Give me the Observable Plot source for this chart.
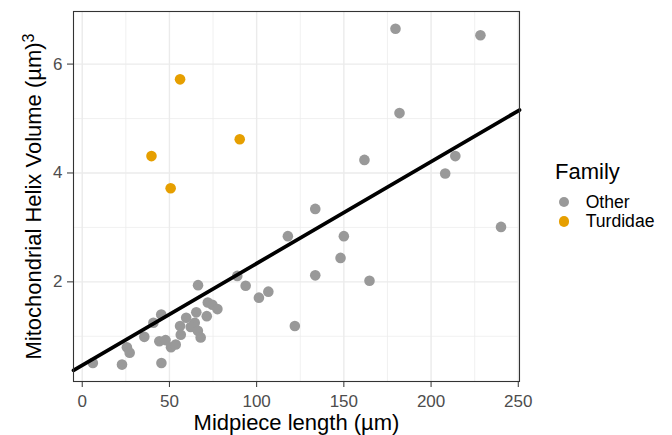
<!DOCTYPE html>
<html><head><meta charset="utf-8">
<script src="https://cdn.jsdelivr.net/npm/d3@7"></script>
<script src="https://cdn.jsdelivr.net/npm/@observablehq/plot@0.6"></script>
<style>
html,body{margin:0;padding:0;background:#fff;}
#wrap{position:relative;width:672px;height:435px;font-family:"Liberation Sans",Arial,sans-serif;}
#legend{position:absolute;left:555px;top:159px;color:#000;}
.lt{font-size:22px;line-height:26px;margin-bottom:7.6px;}
.row{display:flex;align-items:center;height:19.4px;font-size:17.6px;}
.sw{width:10.4px;height:10.4px;border-radius:50%;margin-left:4.1px;margin-right:16.2px;}
</style></head><body><div id="wrap"><div id="legend"></div></div>
<script>
const midpiece = [56.1, 90.3, 39.7, 50.7,
  179.6, 228.3, 181.9, 161.8, 213.9, 208.1, 240.1, 133.6, 117.9, 150.0, 148.1, 133.6, 164.7, 121.9,
  88.9, 93.7, 101.3, 106.7, 66.4, 72.0, 74.6, 77.5, 65.4, 71.4, 59.6, 64.5, 56.1, 62.2, 66.3, 56.5,
  67.9, 45.3, 40.8, 35.6, 44.2, 47.8, 50.9, 53.6, 45.4, 25.6, 27.2, 22.8, 6.1];
const volume = [5.72, 4.62, 4.31, 3.72,
  6.65, 6.53, 5.10, 4.24, 4.31, 3.99, 3.01, 3.34, 2.84, 2.84, 2.44, 2.12, 2.02, 1.19,
  2.11, 1.93, 1.71, 1.82, 1.94, 1.62, 1.58, 1.50, 1.44, 1.37, 1.34, 1.25, 1.19, 1.17, 1.10, 1.03,
  0.98, 1.40, 1.25, 0.99, 0.91, 0.93, 0.80, 0.85, 0.51, 0.80, 0.70, 0.48, 0.51];
const family = midpiece.map((_, i) => i < 4 ? "Turdidae" : "Other");
const familyDomain = ["Other", "Turdidae"];
const familyColors = ["#999999", "#E69F00"];
const fitIntercept = 0.468, fitSlope = 0.0187;
const xTicks = [0, 50, 100, 150, 200, 250];
const xMinor = [25, 75, 125, 175, 225];
const yTicks = [2, 4, 6];
const yMinor = [1, 3, 5];
const xTitle = "Midpiece length (µm)";
const yTitleMain = "Mitochondrial Helix Volume (µm)";
const yTitleSup = "3";
const legendTitle = "Family";

const xDomain = [-5, 250.7], yDomain = [0.17, 6.966];
const data = midpiece.map((x, i) => ({x, y: volume[i], family: family[i]}));
const fit = xDomain.map(x => ({x, y: fitIntercept + fitSlope * x}));
const ordered = data.filter(d => d.family === "Other").concat(data.filter(d => d.family === "Turdidae"));

const chart = Plot.plot({
  width: 672, height: 435,
  marginLeft: 73, marginRight: 153, marginTop: 11, marginBottom: 54,
  style: {fontFamily: "Liberation Sans, Arial, sans-serif", fontSize: "17px", background: "#fff", overflow: "visible"},
  x: {domain: xDomain, label: null},
  y: {domain: yDomain, label: null},
  color: {domain: familyDomain, range: familyColors},
  marks: [
    Plot.gridX(xMinor, {stroke: "#EBEBEB", strokeOpacity: 1, strokeWidth: 0.7}),
    Plot.gridY(yMinor, {stroke: "#EBEBEB", strokeOpacity: 1, strokeWidth: 0.7}),
    Plot.gridX(xTicks, {stroke: "#EBEBEB", strokeOpacity: 1, strokeWidth: 1.4}),
    Plot.gridY(yTicks, {stroke: "#EBEBEB", strokeOpacity: 1, strokeWidth: 1.4}),
    Plot.dot(ordered, {x: "x", y: "y", fill: "family", r: 5.3}),
    Plot.line(fit, {x: "x", y: "y", stroke: "black", strokeWidth: 3.7}),
    Plot.frame({stroke: "#333333", strokeWidth: 1.1}),
    Plot.axisX(xTicks, {tickSize: 6, tickPadding: 7, stroke: "#333333", fill: "#4D4D4D", label: null, fontSize: 17, tickFormat: d3.format("d")}),
    Plot.axisY(yTicks, {tickSize: 6, tickPadding: 5, stroke: "#333333", fill: "#4D4D4D", label: null, fontSize: 17, tickFormat: d3.format("d")}),
    Plot.text([xTitle], {frameAnchor: "bottom", dy: 48, lineAnchor: "bottom", textAnchor: "middle", fontSize: 22, fill: "black"}),
    Plot.text([yTitleMain], {frameAnchor: "left", rotate: -90, dx: -33, lineAnchor: "bottom", textAnchor: "middle", fontSize: 22, fill: "black", className: "ytitle"})
  ]
});
const wrap = document.getElementById("wrap");
wrap.insertBefore(chart, wrap.firstChild);

// add a real superscript to the y title
const yt = d3.select(chart).selectAll("text").filter(function () { return this.textContent === yTitleMain; });
yt.each(function () {
  const t = d3.select(this);
  t.text(null);
  t.append("tspan").text(yTitleMain);
  t.append("tspan").attr("dy", "-0.42em").attr("font-size", "16px").text(yTitleSup);
});

const legend = d3.select("#legend");
legend.append("div").attr("class", "lt").text(legendTitle);
familyDomain.forEach((f, i) => {
  const row = legend.append("div").attr("class", "row");
  row.append("div").attr("class", "sw").style("background", familyColors[i]);
  row.append("span").text(f);
});
</script>
</body></html>
